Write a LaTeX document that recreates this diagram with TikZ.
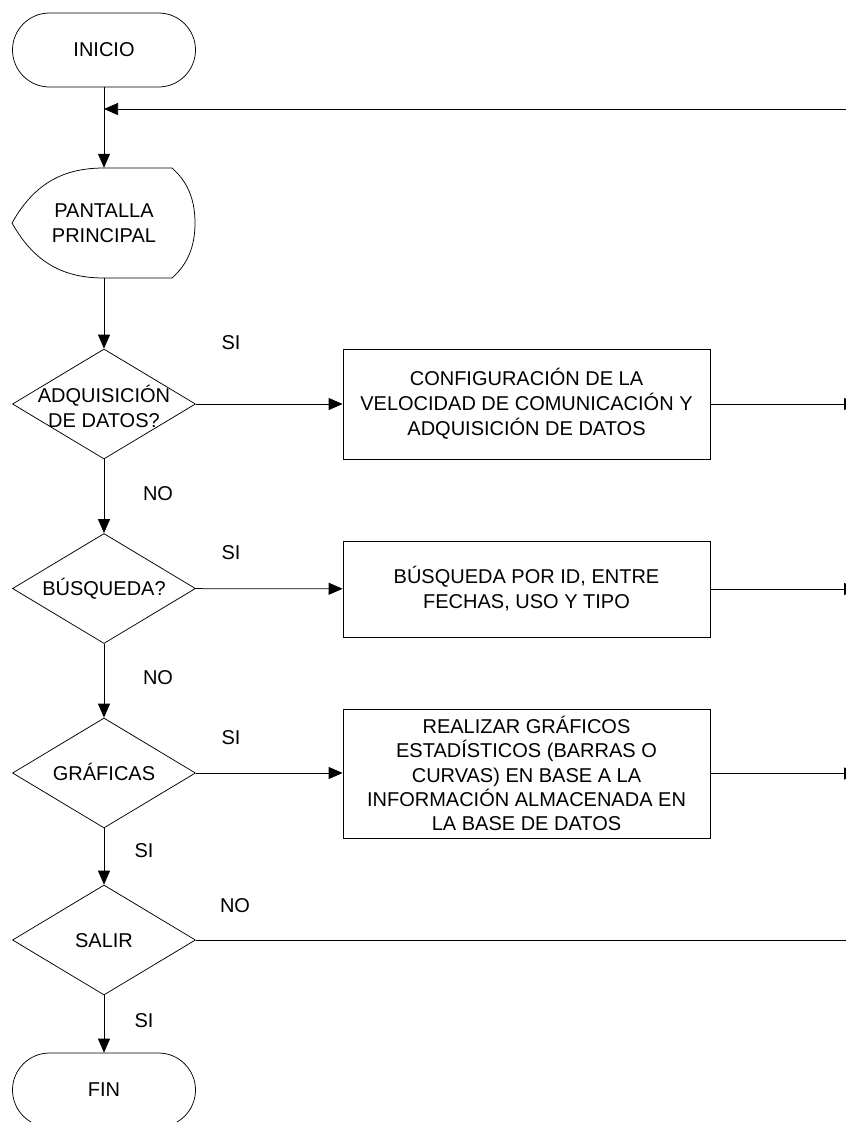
\documentclass[tikz,border=0pt]{standalone}
\usepackage{fontspec}
\setmainfont{Liberation Sans}
\usetikzlibrary{arrows.meta,shapes.geometric}
\begin{document}
\begin{tikzpicture}[x=1pt,y=-1pt,
  every node/.style={font=\fontsize{20}{25}\selectfont, inner sep=0pt},
  line/.style={line width=0.75pt, draw=black},
  arr/.style={line, -{Triangle[length=14pt,width=12pt]}},
  term/.style={draw, line width=0.75pt, rounded corners=37pt, minimum width=183pt, minimum height=74pt},
  decision/.style={diamond, draw, line width=0.75pt, minimum width=183pt, minimum height=110pt},
  procbox/.style={draw, line width=0.75pt, minimum width=367pt, align=center},
  tag/.style={text height=14.3pt, text depth=0pt},
]
\useasboundingbox (0,0) rectangle (846,1122);
\clip (0,0) rectangle (846,1122);

% start / end terminals
\node[term] (ini) at (104,50) {INICIO};
\node[term] (fin) at (104,1090) {FIN};

% main screen (display shape)
\node[minimum width=183pt, minimum height=110pt, align=center] (pan) at (104,223) {PANTALLA\\PRINCIPAL};
\draw[line] (12,223) .. controls (35,182) and (65,168) .. (104,168) -- (172,168)
  .. controls (188,182) and (195,200) .. (195,223)
  .. controls (195,246) and (188,264) .. (172,278) -- (104,278)
  .. controls (65,278) and (35,264) .. (12,223);

% decisions
\node[decision, label={[align=center, yshift=-2pt]center:ADQUISICIÓN\\DE DATOS?}] (d1) at (104,404) {};
\node[decision, label={[tag]center:BÚSQUEDA?}] (d2) at (104,588.5) {};
\node[decision, label={[tag]center:GRÁFICAS}] (d3) at (104,773) {};
\node[decision, label={[tag]center:SALIR}] (d4) at (104,940) {};

% processes
\node[procbox, minimum height=110pt] (b1) at (526.5,404) {CONFIGURACIÓN DE LA\\VELOCIDAD DE COMUNICACIÓN Y\\ADQUISICIÓN DE DATOS};
\node[procbox, minimum height=96pt] (b2) at (526.5,589) {BÚSQUEDA POR ID, ENTRE\\FECHAS, USO Y TIPO};
\node[procbox, minimum height=129pt, font=\fontsize{20}{24.3}\selectfont] (b3) at (526.5,773.5) {REALIZAR GRÁFICOS\\ESTADÍSTICOS (BARRAS O\\CURVAS) EN BASE A LA\\INFORMACIÓN ALMACENADA EN\\LA BASE DE DATOS};

% loose ends on the right
\coordinate (loopR) at (846,109);
\coordinate (r1) at (858,404);
\coordinate (r2) at (858,589);
\coordinate (r3) at (858,773.5);
\coordinate (r4) at (846,940);

% main flow
\draw[arr] (ini) -- (pan);
\draw[arr] (loopR) -- (loopR -| ini.south);
\draw[arr] (pan) -- (d1);
\draw[arr] (d1) -- (d2);
\draw[arr] (d2) -- (d3);
\draw[arr] (d3) -- (d4);
\draw[arr] (d4) -- (fin);

% branches
\draw[arr] (d1) -- (b1);
\draw[arr] (d2) -- (b2);
\draw[arr] (d3.east) -- (d3.east -| b3.west);
\draw[arr] (b1) -- (r1);
\draw[arr] (b2) -- (r2);
\draw[arr] (b3) -- (r3);
\draw[line] (d4) -- (r4);

% branch labels
\node[tag] (si1) at (231,342) {SI};
\node[tag] (no1) at (158,493) {NO};
\node[tag] (si2) at (231,552) {SI};
\node[tag] (no2) at (158,677) {NO};
\node[tag] (si3) at (231,737) {SI};
\node[tag] (si4) at (144,850) {SI};
\node[tag] (no3) at (235,905) {NO};
\node[tag] (si5) at (144,1020) {SI};
\end{tikzpicture}
\end{document}
